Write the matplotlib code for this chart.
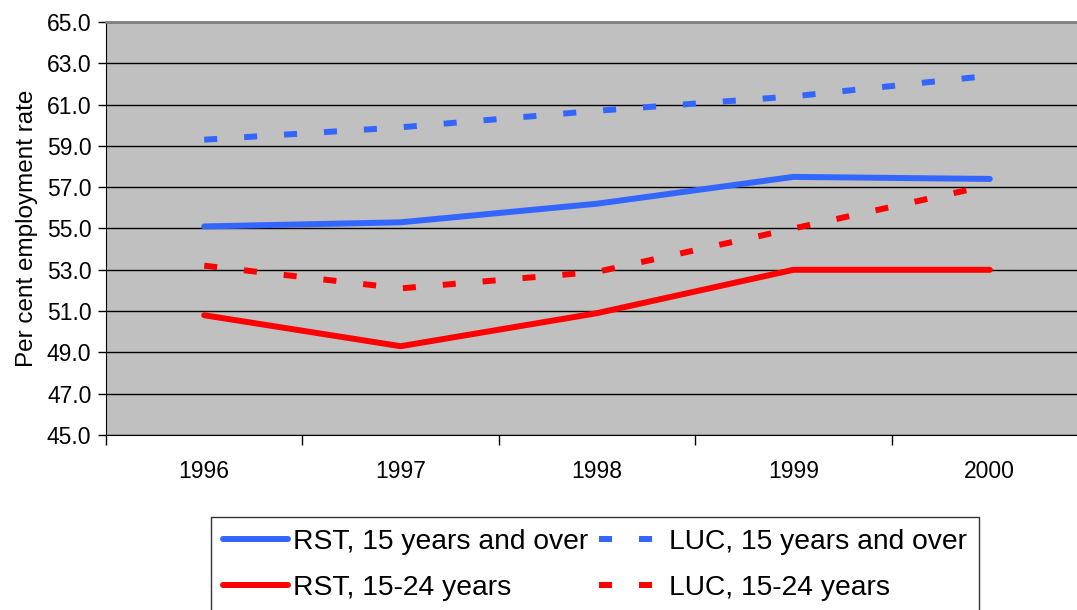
import matplotlib
matplotlib.use('Agg')
import matplotlib.pyplot as plt
from matplotlib.ticker import FixedLocator, NullFormatter, FormatStrFormatter

plt.rcParams['font.family'] = ['Liberation Sans', 'DejaVu Sans']
plt.rcParams['lines.scale_dashes'] = False

years = ['1996', '1997', '1998', '1999', '2000']
rst_15_over = [55.1, 55.3, 56.2, 57.5, 57.4]
luc_15_over = [59.3, 59.9, 60.7, 61.4, 62.4]
rst_15_24 = [50.8, 49.3, 50.9, 53.0, 53.0]
luc_15_24 = [53.2, 52.1, 52.9, 55.0, 57.1]

blue = '#3366FF'
red = '#FF0000'

fig = plt.figure(figsize=(10.77, 6.10), dpi=100)
ax = fig.add_axes([106/1077, 175/610, 982/1077, 413/610])
ax.set_facecolor('#C0C0C0')

x = list(range(len(years)))
ax.plot(x, rst_15_over, color=blue, lw=4.3, solid_capstyle='round', solid_joinstyle='round',
        label='RST, 15 years and over')
ax.plot(x, luc_15_over, color=blue, lw=4.3, dashes=(9.4, 19.4), dash_capstyle='butt',
        label='LUC, 15 years and over')
ax.plot(x, rst_15_24, color=red, lw=4.3, solid_capstyle='round', solid_joinstyle='round',
        label='RST, 15-24 years')
ax.plot(x, luc_15_24, color=red, lw=4.3, dashes=(9.4, 19.4), dash_capstyle='butt',
        label='LUC, 15-24 years')

ax.set_xlim(-0.5, len(years) - 0.5)
ax.set_ylim(45, 65)
ax.set_yticks([45 + 2*i for i in range(11)])
ax.yaxis.set_major_formatter(FormatStrFormatter('%.1f'))
ax.yaxis.grid(True, color='black', lw=1)
ax.set_axisbelow(True)

ax.xaxis.set_major_locator(FixedLocator([i - 0.5 for i in range(len(years) + 1)]))
ax.xaxis.set_major_formatter(NullFormatter())
ax.xaxis.set_minor_locator(FixedLocator(x))
ax.set_xticklabels(years, minor=True)
ax.tick_params(axis='x', which='minor', length=0, pad=18, labelsize=16.5)
ax.tick_params(axis='x', which='major', length=7, width=1)
ax.tick_params(axis='y', length=6, width=1, labelsize=16.5, pad=4.5)

for s in ['top', 'right']:
    ax.spines[s].set_color('#808080')
    ax.spines[s].set_linewidth(2)
ax.spines['left'].set_color('black')
ax.spines['bottom'].set_color('black')

ax.set_ylabel('Per cent employment rate', fontsize=17.5, labelpad=6)

h, l = ax.get_legend_handles_labels()
order = [0, 2, 1, 3]
leg = fig.legend([h[i] for i in order], [l[i] for i in order], ncol=2,
                 loc='upper left', bbox_to_anchor=(211/1077, 1 - 517/610),
                 fontsize=20.3, frameon=True, fancybox=False, edgecolor='black',
                 handlelength=2.3, handletextpad=0.18, columnspacing=0.4,
                 borderpad=0.42, borderaxespad=0, labelspacing=0.7)
leg.get_frame().set_linewidth(1)

fig.savefig('out.png', dpi=100)
